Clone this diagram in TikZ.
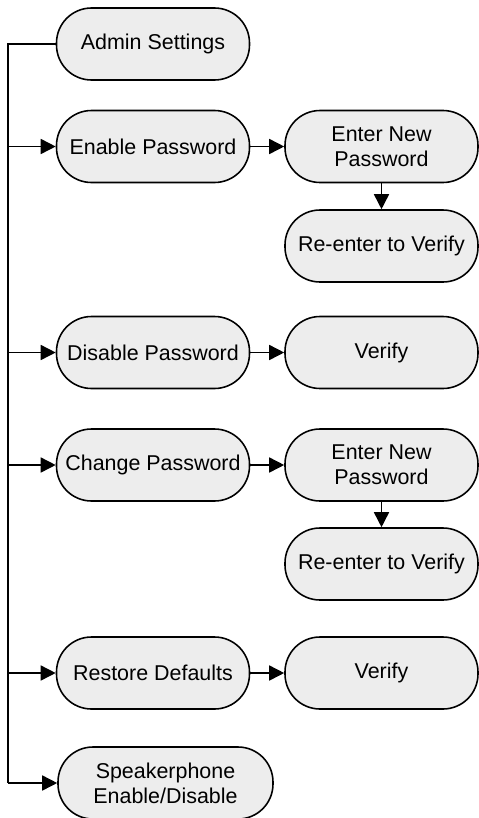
\documentclass[tikz,border=0pt]{standalone}
\usepackage{fontspec}
\setmainfont{Liberation Sans}
\usetikzlibrary{arrows.meta}
\tikzset{
  menu/.style ={draw, rectangle, rounded corners=7mm, minimum width=3.86cm,
                minimum height=1.44cm, inner sep=1pt, align=center,
                fill=black!7, line width=0.9pt, font=\fontsize{12.2}{14.2}\selectfont},
  arr/.style  ={-{Triangle[length=3mm, width=3mm]}, line width=0.9pt},
  trunkl/.style={line width=0.9pt},
}
\begin{document}
\begin{tikzpicture}
  \useasboundingbox (0,0) rectangle (9.58,-16.36);
  \coordinate (trunk) at (0.16,0);
  % left column
  \node[menu] (admin)   at (3.06,-0.88)  {Admin Settings};
  \node[menu] (enable)  at (3.06,-2.93)  {Enable Password};
  \node[menu] (disable) at (3.06,-7.05)  {Disable Password};
  \node[menu] (change)  at (3.06,-9.30)  {Change Password};
  \node[menu] (restore) at (3.06,-13.46) {Restore Defaults};
  \node[menu, minimum width=4.3cm] (speaker) at (3.31,-15.66)
    {Speakerphone\\Enable/Disable};
  % right column
  \node[menu] (newpw1)  at (7.63,-2.93)  {Enter New\\Password};
  \node[menu] (verpw1)  at (7.63,-4.92)  {Re-enter to Verify};
  \node[menu] (verify1) at (7.63,-7.05)  {Verify};
  \node[menu] (newpw2)  at (7.63,-9.30)  {Enter New\\Password};
  \node[menu] (verpw2)  at (7.63,-11.28) {Re-enter to Verify};
  \node[menu] (verify2) at (7.63,-13.46) {Verify};
  % trunk
  \draw[trunkl] (admin.west) -- (admin.west -| trunk) -- (speaker.west -| trunk);
  \foreach \n in {enable,disable,change,restore,speaker}
    \draw[arr] (\n.west -| trunk) -- (\n.west);
  % branches
  \draw[arr] (enable)  -- (newpw1);
  \draw[arr] (newpw1)  -- (verpw1);
  \draw[arr] (disable) -- (verify1);
  \draw[arr] (change)  -- (newpw2);
  \draw[arr] (newpw2)  -- (verpw2);
  \draw[arr] (restore) -- (verify2);
\end{tikzpicture}
\end{document}
